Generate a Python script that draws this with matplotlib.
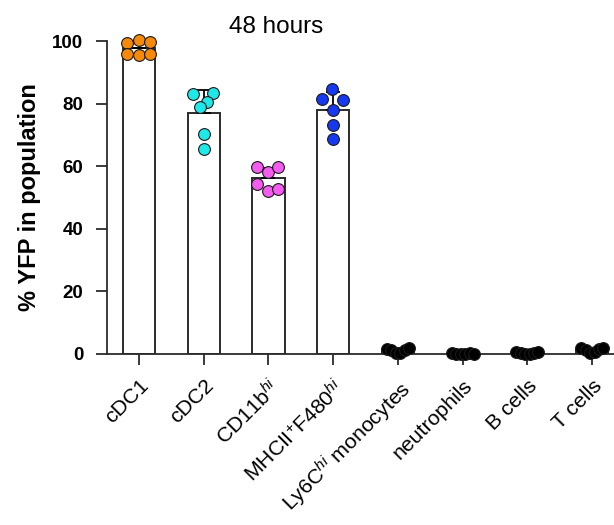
import numpy as np
import matplotlib
matplotlib.use('Agg')
import matplotlib.pyplot as plt

plt.rcParams['font.family'] = ['Liberation Sans', 'DejaVu Sans']
plt.rcParams['mathtext.fontset'] = 'custom'
plt.rcParams['mathtext.rm'] = 'Liberation Sans'
plt.rcParams['mathtext.it'] = 'Liberation Sans:italic'

labels = ['cDC1', 'cDC2', r'CD11b$^{\it hi}$', r'MHCII$^{+}$F480$^{\it hi}$',
          r'Ly6C$^{\it hi}$ monocytes', 'neutrophils', 'B cells', 'T cells']

cdc1 = [99.5, 100.2, 99.6, 95.8, 95.4, 95.7]
cdc2 = [83.2, 83.4, 80.6, 78.8, 70.4, 65.6]
cd11b = [59.7, 58.1, 59.7, 54.4, 52.2, 52.8]
mhcii = [84.6, 81.6, 81.1, 77.9, 73.1, 68.8]
ly6c = [1.7, 1.2, 0.3, 0.4, 1.4, 1.9]
neut = [0.2, 0.1, 0.0, 0.1, 0.2, 0.1]
bcells = [0.5, 0.2, 0.1, 0.1, 0.2, 0.5]
tcells = [1.8, 1.2, 0.4, 0.5, 1.5, 2.0]

groups = [cdc1, cdc2, cd11b, mhcii, ly6c, neut, bcells, tcells]
colors = ['#F7890A', '#1EE8E8', '#F45CF0', '#1638F0',
          '#000000', '#000000', '#000000', '#000000']

# horizontal spread of the dots within each column
spread = [
    [-0.18, 0.0, 0.17, -0.18, 0.0, 0.17],
    [-0.16, 0.15, 0.05, -0.06, 0.0, 0.0],
    [-0.18, 0.0, 0.15, -0.18, 0.0, 0.15],
    [-0.02, -0.18, 0.155, 0.0, 0.0, 0.0],
    [-0.17, -0.1, -0.03, 0.04, 0.11, 0.17],
    [-0.17, -0.1, -0.03, 0.04, 0.11, 0.17],
    [-0.17, -0.1, -0.03, 0.04, 0.11, 0.17],
    [-0.17, -0.1, -0.03, 0.04, 0.11, 0.17],
]

fig = plt.figure(figsize=(6.14, 5.25), dpi=100)
ax = fig.add_axes([107 / 614, 171 / 525, 1 - 107 / 614, 313 / 525])

x = np.arange(len(groups))
means = [np.mean(g) for g in groups]
sds = [np.std(g, ddof=1) for g in groups]

ax.bar(x, means, width=0.5, color='white', edgecolor='#2b2b2b', linewidth=1.4, zorder=2)
ax.errorbar(x, means, yerr=[np.zeros(len(x)), sds], fmt='none', ecolor='black',
            elinewidth=1.3, capsize=4.8, capthick=1.3, zorder=3)

for i, g in enumerate(groups):
    ax.scatter(x[i] + np.array(spread[i]), g, s=72, color=colors[i],
               edgecolors='#1a1a1a', linewidths=0.8, zorder=4, clip_on=False)

ax.set_xlim(-0.495, 7.34)
ax.set_ylim(0, 100)
ax.set_yticks([0, 20, 40, 60, 80, 100])
ax.set_xticks(x)
ax.set_xticklabels(labels, rotation=45, ha='right', va='top', rotation_mode='anchor',
                   fontsize=15.3)
for t in ax.get_yticklabels():
    t.set_fontweight('bold')
ax.tick_params(axis='y', labelsize=13.5, length=8, width=1.3, pad=9, color='#2b2b2b')
ax.tick_params(axis='x', length=8, width=1.3, pad=8, color='#2b2b2b')

for side in ['top', 'right']:
    ax.spines[side].set_visible(False)
for side in ['left', 'bottom']:
    ax.spines[side].set_linewidth(1.3)
    ax.spines[side].set_color('#2b2b2b')

ax.set_ylabel('% YFP in population', fontsize=17, fontweight='bold', labelpad=8)
fig.text(276 / 614, 1 - 27 / 525, '48 hours', fontsize=17.5, ha='center', va='center')

fig.savefig('out.png', dpi=100)
